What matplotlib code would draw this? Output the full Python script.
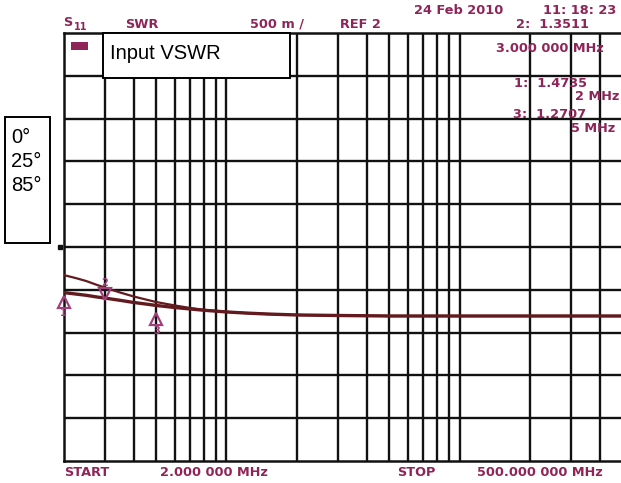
import numpy as np
import matplotlib
matplotlib.use("Agg")
import matplotlib.pyplot as plt
from matplotlib.patches import Rectangle
from matplotlib import transforms

# ---------------- data ----------------
freq_mhz = [2, 2.25, 2.5, 2.75, 3, 3.5, 4, 4.5, 5, 6, 7, 8, 10, 12, 15, 20, 30, 50, 100, 200, 500]
swr_lower = [1.468, 1.451, 1.436, 1.418, 1.404, 1.377, 1.352, 1.334, 1.317, 1.293, 1.276,
             1.261, 1.241, 1.229, 1.217, 1.206, 1.200, 1.194, 1.194, 1.194, 1.194]
swr_upper = [1.673, 1.638, 1.603, 1.562, 1.527, 1.468, 1.422, 1.387, 1.357, 1.317, 1.287,
             1.266, 1.243, 1.229, 1.217, 1.206, 1.200, 1.194, 1.194, 1.194, 1.194]
marker_ids = ["1", "2", "3"]
marker_freq = [2, 3, 5]
marker_swr = [1.4735, 1.3511, 1.2707]
legend_labels = ["0°", "25°", "85°"]
vgrid_freqs = [3, 4, 5, 6, 7, 8, 9, 10, 20, 30, 40, 50, 60, 70, 80, 90, 100, 200, 300, 400]
ref_level = 2.0
scale_per_div = 0.5
start_mhz, stop_mhz = 2, 500

W, H = 621, 483
fig = plt.figure(figsize=(W / 100, H / 100), dpi=100)
fig.patch.set_facecolor("white")

def fx(px):
    return px / W

def fy(py):
    return 1 - py / H

ax_l, ax_r, ax_t, ax_b = 63.5, 622.5, 33, 461
ax = fig.add_axes([fx(ax_l), fy(ax_b), fx(ax_r - ax_l), (ax_b - ax_t) / H])
ax.set_xscale("log")
ax.set_xlim(start_mhz, stop_mhz)
ax.set_ylim(ref_level - 5 * scale_per_div, ref_level + 5 * scale_per_div)

gridc = "#111111"
for f in vgrid_freqs:
    ax.axvline(f, color=gridc, lw=1.7, zorder=1)
for v in np.arange(ref_level - 4 * scale_per_div, ref_level + 4.5 * scale_per_div, scale_per_div):
    ax.axhline(v, color=gridc, lw=1.7, zorder=1)
for s in ax.spines.values():
    s.set_color(gridc)
    s.set_linewidth(1.8)
ax.set_xticks([])
ax.set_yticks([])
ax.minorticks_off()
ax.tick_params(which="both", length=0, labelbottom=False, labelleft=False)

trace_c = "#621a1e"
ax.plot(freq_mhz, swr_upper, color=trace_c, lw=1.6, zorder=3)
ax.plot(freq_mhz, swr_lower, color=trace_c, lw=2.4, zorder=3)

# markers
mk_c = "#a0407a"
offsets = [(0, -7.3, "^", -15.0), (0, 5.8, "v", 14.0), (0, -7.0, "^", -15.5)]
for mid, f, v, (dx, dy, m, ly) in zip(marker_ids, marker_freq, marker_swr, offsets):
    tr = transforms.offset_copy(ax.transData, fig=fig, x=dx, y=dy, units="points")
    ax.plot([f], [v], marker=m, ms=9, mfc="none", mec=mk_c, mew=1.6, transform=tr,
            clip_on=False, zorder=4)
    trl = transforms.offset_copy(ax.transData, fig=fig, x=0, y=ly, units="points")
    ax.text(f, v, mid, transform=trl, ha="center", va="center", fontsize=7,
            fontweight="bold", color=mk_c, zorder=4, clip_on=False)

# reference level marker
ref_tr = transforms.blended_transform_factory(ax.transAxes, ax.transData)
ax.plot([-0.007], [ref_level], marker="s", ms=3.5, color="#111111", transform=ref_tr,
        clip_on=False, zorder=5)

# ---------------- instrument annotations ----------------
tc = "#8e2457"
fp = dict(family="DejaVu Sans", fontweight="bold", color=tc, fontsize=9.3)

def t(x, y, s, ha="center", **kw):
    d = dict(fp)
    d.update(kw)
    fig.text(fx(x), fy(y), s, ha=ha, va="center", **d)

t(459, 10, "24 Feb 2010")
t(580, 10, "11: 18: 23")
t(63, 22, "S", ha="left")
t(74, 27, "11", ha="left", fontsize=7)
t(142, 24, "SWR")
t(277, 24, "500 m /")
t(360, 24, "REF 2")
t(553, 25, "2:  1.3511")
t(550, 49, "3.000 000 MHz")
t(550, 83, "1:  1.4735")
t(597, 97, "2 MHz")
t(550, 115, "3:  1.2707")
t(593, 128, "5 MHz")
t(87, 473, "START")
t(214, 473, "2.000 000 MHz")
t(416, 473, "STOP")
t(540, 473, "500.000 000 MHz")

# small status indicator in top-left cell
fig.add_artist(Rectangle((fx(71), fy(50)), fx(88) - fx(71), (50 - 42) / H,
                         transform=fig.transFigure, facecolor=tc, edgecolor="none", zorder=2))

# ---------------- overlay boxes ----------------
fig.add_artist(Rectangle((fx(103), fy(78)), fx(290 - 103), (78 - 33) / H,
                         transform=fig.transFigure, facecolor="white", edgecolor="black",
                         lw=1.4, zorder=3))
fig.text(fx(110), fy(59), "Input VSWR", ha="left", va="baseline",
         family="Liberation Sans", fontsize=14.5, color="black", zorder=4)

fig.add_artist(Rectangle((fx(5), fy(243)), fx(50 - 5), (243 - 117) / H,
                         transform=fig.transFigure, facecolor="white", edgecolor="black",
                         lw=1.4, zorder=3))
for lab, base in zip(legend_labels, [143, 167, 191]):
    fig.text(fx(11), fy(base), lab, ha="left", va="baseline",
             family="Liberation Sans", fontsize=14.5, color="black", zorder=4)

fig.savefig("out.png", dpi=100, facecolor="white")
